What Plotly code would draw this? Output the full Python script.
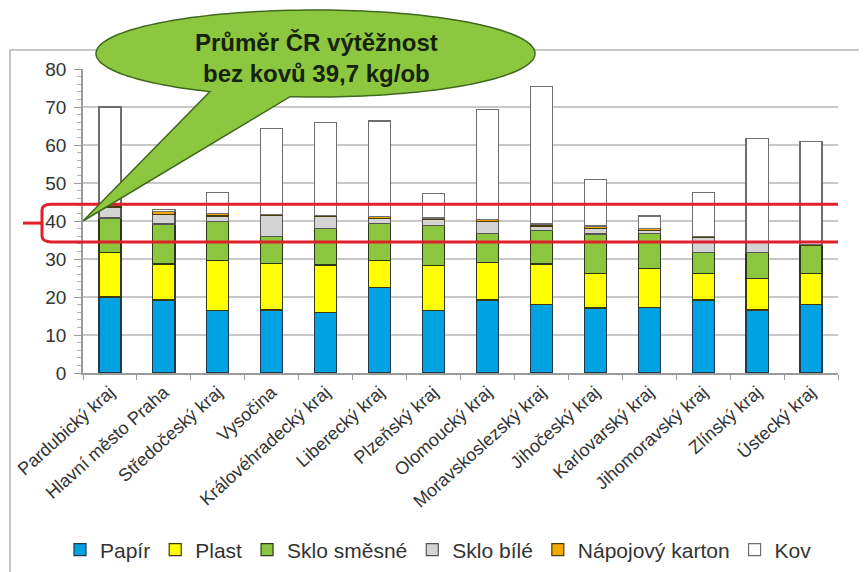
"""Výtěžnost tříděného odpadu podle krajů – skládaný sloupcový graf"""

import numpy as np
import plotly.graph_objects as go

kraje = ["Pardubický kraj", "Hlavní město Praha", "Středočeský kraj", "Vysočina",
         "Královéhradecký kraj", "Liberecký kraj", "Plzeňský kraj", "Olomoucký kraj",
         "Moravskoslezský kraj", "Jihočeský kraj", "Karlovarský kraj",
         "Jihomoravský kraj", "Zlínský kraj", "Ústecký kraj"]

papir = [20.0, 19.2, 16.4, 16.6, 15.9, 22.5, 16.4, 19.2, 18.1, 17.1, 17.3, 19.2, 16.6, 18.1]
plast = [11.7, 9.5, 13.3, 12.3, 12.5, 7.2, 11.9, 9.9, 10.6, 9.1, 10.1, 7.0, 8.3, 8.1]
sklo_smesne = [9.1, 10.5, 10.1, 7.0, 9.7, 9.7, 10.6, 7.6, 8.7, 10.4, 9.3, 5.5, 6.8, 7.3]
sklo_bile = [2.9, 2.5, 1.5, 5.5, 3.0, 1.3, 1.5, 3.1, 1.3, 1.5, 0.7, 4.0, 2.6, 0.1]
napojovy_karton = [0.4, 0.8, 0.6, 0.4, 0.4, 0.4, 0.4, 0.6, 0.5, 0.6, 0.7, 0.3, 0.2, 0.2]
kov = [25.9, 0.5, 5.6, 22.5, 24.5, 25.2, 6.4, 28.9, 36.3, 12.2, 3.2, 11.5, 27.3, 27.2]

prumer_text = "Průměr ČR výtěžnost<br>bez kovů 39,7 kg/ob"
pasmo_od, pasmo_do = 34.5, 44.4   # červený rámeček kolem průměru

FONT = "Liberation Sans, Arial, sans-serif"

# plocha grafu na stránce (px); stránka má okraj 8 px kolem divu
OFF = 8
X0, X1, Y0, Y1 = 83, 838, 69, 373
W, H = 867, 572
PW, PH = X1 - X0, Y1 - Y0


def px(x):
    return (x - X0) / PW


def py(y):
    return (Y1 - y) / PH


serie = [
    ("Papír", papir, "#00a2e2", "#1f3a4a"),
    ("Plast", plast, "#ffff00", "#3a3a10"),
    ("Sklo směsné", sklo_smesne, "#8cc63f", "#2a3a18"),
    ("Sklo bílé", sklo_bile, "#d4d4d4", "#555555"),
    ("Nápojový karton", napojovy_karton, "#f2a900", "#4a3a10"),
    ("Kov", kov, "#ffffff", "#6e6e6e"),
]

fig = go.Figure()
for name, vals, color, edge in serie:
    fig.add_trace(go.Bar(
        x=kraje, y=vals, name=name,
        marker=dict(color=color, line=dict(color=edge, width=1.2)),
    ))

# --- bublina s textem (elipsa + špička jako jeden polygon) ---
cx, cy, rx, ry = 315.5, 53.5, 219.5, 43.5
t1 = np.arccos((290 - cx) / rx)          # pravý okraj základny špičky
t2 = np.arccos((210 - cx) / rx)          # levý okraj základny špičky
ts = np.linspace(t2, 2 * np.pi + t1, 160)
pts = [(cx + rx * np.cos(t), cy + ry * np.sin(t)) for t in ts]
pts.append((83, 221))                    # špička bubliny
path = "M " + " L ".join(f"{px(x):.5f},{py(y):.5f}" for x, y in pts) + " Z"

shapes = []
# rámeček celého grafu
shapes.append(dict(type="path", xref="paper", yref="paper", layer="below",
                   path=f"M {px(10)},{py(580)} L {px(10)},{py(50)} L {px(880)},{py(50)}",
                   line=dict(color="#b5b5b5", width=1.5)))
# červený rámeček průměru
x0 = px(42)
rxp, ryp = 0.012, 1.6
shapes.append(dict(
    type="path", xref="paper", yref="y", layer="above",
    path=(f"M 1,{pasmo_do} L {x0 + rxp},{pasmo_do} Q {x0},{pasmo_do} {x0},{pasmo_do - ryp} "
          f"L {x0},{pasmo_od + ryp} Q {x0},{pasmo_od} {x0 + rxp},{pasmo_od} L 1,{pasmo_od}"),
    line=dict(color="#e0202a", width=3)))
shapes.append(dict(type="line", xref="paper", yref="y", layer="above",
                   x0=px(23), x1=x0, y0=(pasmo_od + pasmo_do) / 2, y1=(pasmo_od + pasmo_do) / 2,
                   line=dict(color="#e0202a", width=3)))
shapes.append(dict(type="path", xref="paper", yref="paper", layer="above", path=path,
                   fillcolor="#8dc63f", line=dict(color="#3f6a1e", width=1.5)))

fig.add_annotation(
    x=px(316), y=py(58), xref="paper", yref="paper", text=f"<b>{prumer_text}</b>",
    showarrow=False, font=dict(family=FONT, size=24, color="#15230a"),
    xanchor="center", yanchor="middle",
)

fig.update_layout(
    width=W, height=H,
    barmode="stack", bargap=0.59,
    margin=dict(l=X0 - OFF, r=W - (X1 - OFF), t=Y0 - OFF, b=H - (Y1 - OFF), autoexpand=False),
    plot_bgcolor="white", paper_bgcolor="white",
    font=dict(family=FONT, color="#333333"),
    shapes=shapes,
    showlegend=True,
    legend=dict(orientation="h", x=px(60), y=py(550), xanchor="left", yanchor="middle",
                font=dict(family=FONT, size=21, color="#333333"),
                itemwidth=30, traceorder="normal", bgcolor="rgba(0,0,0,0)"),
    xaxis=dict(showline=True, linecolor="#9a9a9a", linewidth=1.5,
               ticks="outside", tickson="boundaries", ticklen=5, tickcolor="#9a9a9a",
               tickangle=-42, tickfont=dict(family=FONT, size=18, color="#333333"),
               automargin=False),
    yaxis=dict(range=[0, 80], dtick=10, showgrid=True, gridcolor="#c8c8c8", gridwidth=1.5,
               showline=True, linecolor="#9a9a9a", linewidth=1.5,
               ticks="outside", ticklen=7, tickcolor="#9a9a9a",
               minor=dict(dtick=2, ticks="outside", ticklen=4, tickcolor="#b0b0b0", showgrid=False),
               tickfont=dict(family=FONT, size=19, color="#333333"),
               ticklabelstandoff=4, zeroline=False, automargin=False),
)

fig.write_html("out.html")
